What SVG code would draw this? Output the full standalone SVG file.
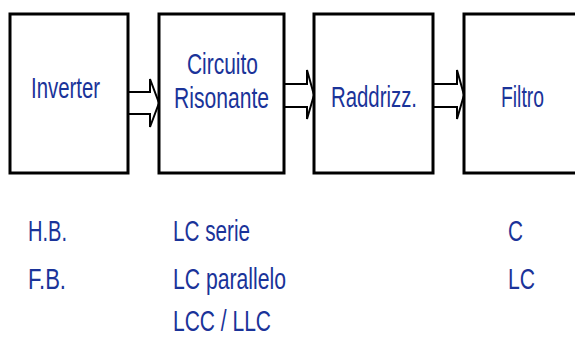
<svg xmlns="http://www.w3.org/2000/svg" width="575" height="337" viewBox="0 0 575 337">
<style>
.box{fill:#fff;stroke:#000;stroke-width:3}
.arr{fill:#fff;stroke:#000;stroke-width:2;stroke-linejoin:miter}
text{font-family:"Liberation Sans",Arial,sans-serif;font-size:29px;fill:#1a3399}
</style>
<rect width="575" height="337" fill="#fff"/>
<g id="connectors">
<polygon class="arr" points="128,92 150,92 150,79 159,103 150,127 150,114 128,114"/>
<polygon class="arr" points="284,84 307,84 307,70 314,95 307,119 307,107 284,107"/>
<polygon class="arr" points="433,84 457,84 457,70 464,95 457,119 457,107 433,107"/>
</g>
<g id="inverter"><rect class="box" x="10" y="14" width="118" height="159"/>
<text x="31" y="98" textLength="69" lengthAdjust="spacingAndGlyphs">Inverter</text></g>
<g id="risonante"><rect class="box" x="159" y="14" width="125" height="159"/>
<text x="187" y="74" textLength="71" lengthAdjust="spacingAndGlyphs">Circuito</text>
<text x="174" y="108" textLength="95" lengthAdjust="spacingAndGlyphs">Risonante</text></g>
<g id="raddrizz"><rect class="box" x="314" y="14" width="119" height="159"/>
<text x="331" y="107" textLength="86" lengthAdjust="spacingAndGlyphs">Raddrizz.</text></g>
<g id="filtro"><rect class="box" x="464" y="14" width="130" height="159"/>
<text x="501" y="107" textLength="43" lengthAdjust="spacingAndGlyphs">Filtro</text></g>
<g id="labels">
<text x="28" y="241" textLength="39" lengthAdjust="spacingAndGlyphs">H.B.</text>
<text x="28" y="289" textLength="38" lengthAdjust="spacingAndGlyphs">F.B.</text>
<text x="173" y="241" textLength="77" lengthAdjust="spacingAndGlyphs">LC serie</text>
<text x="173" y="289" textLength="113" lengthAdjust="spacingAndGlyphs">LC parallelo</text>
<text x="173" y="331" font-size="28" textLength="98" lengthAdjust="spacingAndGlyphs">LCC / LLC</text>
<text x="508" y="241" textLength="15" lengthAdjust="spacingAndGlyphs">C</text>
<text x="508" y="289" textLength="27" lengthAdjust="spacingAndGlyphs">LC</text>
</g>
</svg>
